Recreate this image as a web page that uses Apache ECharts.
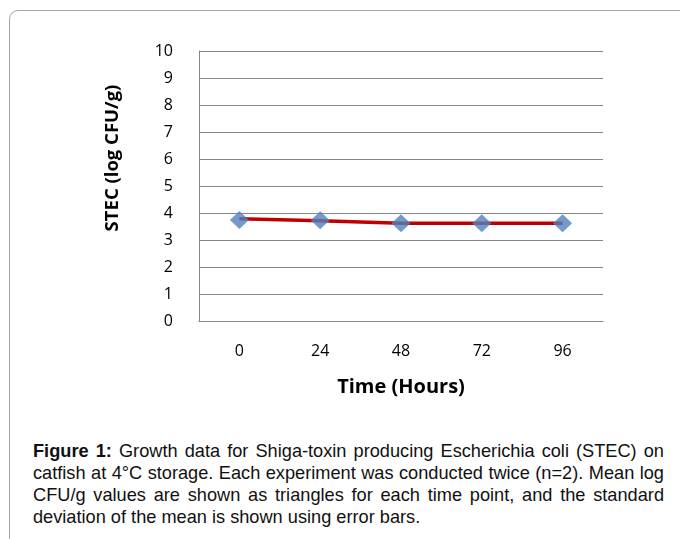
<!DOCTYPE html>
<html><head><meta charset="utf-8">
<script src="https://cdn.jsdelivr.net/npm/echarts@6/dist/echarts.min.js"></script>
<style>
html,body{margin:0;padding:0;background:#fff;}
#wrap{position:relative;width:680px;height:539px;overflow:hidden;background:#fff;}
#frame{position:absolute;left:9px;top:10px;width:700px;height:560px;border:1px solid #a6a6a6;border-radius:9px;box-sizing:border-box;}
#chart{position:absolute;left:0;top:0;width:680px;height:420px;}
#cap{position:absolute;left:33px;top:439.5px;width:631px;font-family:"Liberation Sans",Arial,sans-serif;font-size:18.2px;line-height:22.3px;color:#111;text-align:justify;}
#cap b{font-weight:bold;}
</style></head>
<body><div id="wrap"><div id="frame"></div><div id="chart"></div>
<div id="cap"><b>Figure 1:</b> Growth data for Shiga-toxin producing Escherichia coli (STEC) on catfish at 4°C storage. Each experiment was conducted twice (n=2). Mean log CFU/g values are shown as triangles for each time point, and the standard deviation of the mean is shown using error bars.</div>
</div>
<script>
const categories = ['0', '24', '48', '72', '96'];
const lineValues = [3.79, 3.71, 3.62, 3.62, 3.62];
const markerValues = [3.74, 3.73, 3.62, 3.62, 3.62];
const yTicks = { min: 0, max: 10, interval: 1 };
const xTitle = 'Time (Hours)';
const yTitle = 'STEC (log CFU/g)';

const chart = echarts.init(document.getElementById('chart'), null, { renderer: 'canvas' });
const font = '"Open Sans", sans-serif';
chart.setOption({
  animation: false,
  grid: { left: 199, top: 51, width: 404, height: 270, containLabel: false },
  xAxis: {
    type: 'category', data: categories, boundaryGap: true,
    axisLine: { show: true, lineStyle: { color: '#868686', width: 1 } },
    axisTick: { show: false },
    axisLabel: { color: '#000', fontFamily: font, fontSize: 16, margin: 22 },
    splitLine: { show: false }
  },
  yAxis: {
    type: 'value', min: yTicks.min, max: yTicks.max, interval: yTicks.interval,
    axisLine: { show: true, lineStyle: { color: '#868686', width: 1 } },
    axisTick: { show: false },
    axisLabel: { color: '#000', fontFamily: font, fontSize: 16, margin: 26 },
    splitLine: { show: true, lineStyle: { color: '#868686', width: 1 } }
  },
  graphic: [
    { type: 'text', x: 401, y: 387, style: { text: xTitle, font: 'bold 20px "Open Sans", sans-serif', fill: '#000', align: 'center', verticalAlign: 'middle' } },
    { type: 'text', x: 113, y: 158, rotation: Math.PI / 2, style: { text: yTitle, font: 'bold 18.5px "Open Sans", sans-serif', fill: '#000', align: 'center', verticalAlign: 'middle' } }
  ],
  series: [
    { type: 'line', data: lineValues, symbol: 'none', lineStyle: { color: '#c00000', width: 3.5 }, z: 2 },
    { type: 'scatter', data: markerValues, symbol: 'diamond', symbolSize: [19, 18], itemStyle: { color: '#4f81bd' }, z: 3 }
  ]
});
</script></body></html>
